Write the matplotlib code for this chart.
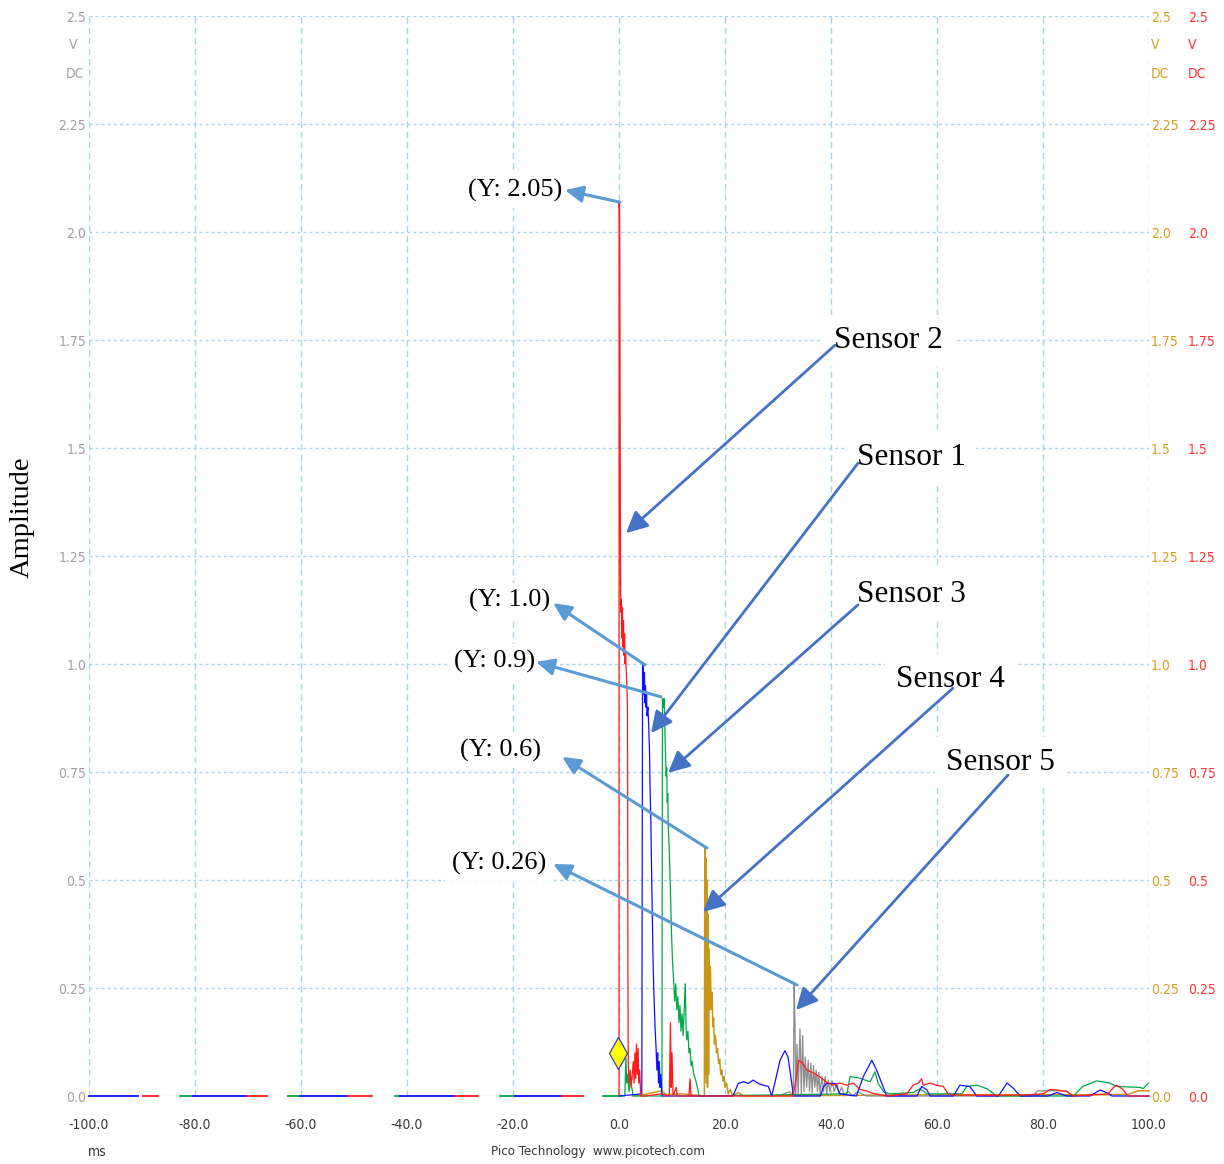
import matplotlib
matplotlib.use("Agg")
import matplotlib.pyplot as plt
from matplotlib import font_manager as fm

# ---------------- data ----------------
x_ticks = [-100, -80, -60, -40, -20, 0, 20, 40, 60, 80, 100]
x_tick_labels = ["-100.0", "-80.0", "-60.0", "-40.0", "-20.0", "0.0",
                 "20.0", "40.0", "60.0", "80.0", "100.0"]
y_ticks = [0.0, 0.25, 0.5, 0.75, 1.0, 1.25, 1.5, 1.75, 2.0, 2.25, 2.5]
y_tick_labels = ["0.0", "0.25", "0.5", "0.75", "1.0", "1.25", "1.5",
                 "1.75", "2.0", "2.25", "2.5"]

# pre-trigger baseline segments (ms start, ms end) at 0 V
green_base = [(-82.8, -80.4), (-62.5, -60.2), (-42.3, -41.3), (-22.5, -19.6), (-3.0, 0.0)]
blue_base = [(-100.0, -90.8), (-80.4, -70.2), (-60.2, -51.1), (-41.3, -30.9), (-19.6, -10.8)]
red_base = [(-89.8, -87.0), (-70.2, -66.4), (-51.1, -46.6), (-30.9, -26.6), (-10.8, -6.8)]

# Sensor 2 (red)
red_t = [0.0, 0.02, 0.1, 0.15, 0.2, 0.25, 0.3, 0.35, 0.45, 0.55, 0.65, 0.75, 0.85,
         0.95, 1.05, 1.15, 1.25, 1.35, 1.45, 1.6, 1.68, 1.75, 1.9, 2.1, 2.3, 2.5,
         2.7, 2.85, 3.0, 3.15, 3.3, 3.45, 3.6, 3.75, 3.9, 4.1, 5.0, 8.0, 9.5, 9.7,
         9.85, 10.0, 10.2, 10.8, 11.0, 13.2, 13.4, 13.6, 16.0, 32.9, 33.9, 34.7,
         35.4, 36.6, 37.9, 39.2, 40.4, 41.7, 43.0, 44.2, 45.5, 46.7, 47.9, 50.5,
         54.3, 55.5, 56.5, 57.1, 57.4, 58.7, 59.9, 61.2, 62.1, 63.0, 75.7, 80.1,
         81.3, 82.6, 84.5, 85.7, 92.3, 93.3, 93.9, 95.1, 96.0, 100.0]
red_v = [0.0, 2.07, 2.05, 1.95, 1.6, 1.35, 1.18, 1.12, 1.15, 1.06, 1.13, 1.04, 1.1,
         1.02, 1.07, 1.0, 1.03, 0.99, 0.96, 0.9, 0.3, 0.07, 0.03, 0.06, 0.02, 0.05,
         0.08, 0.03, 0.1, 0.04, 0.12, 0.05, 0.11, 0.03, 0.06, 0.0, 0.0, 0.005, 0.0, 0.17,
         0.02, 0.1, 0.0, 0.02, 0.0, 0.0, 0.04, 0.0, 0.0, 0.0, 0.083, 0.076,
         0.06, 0.054, 0.044, 0.032, 0.025, 0.03, 0.025, 0.03, 0.015, 0.012, 0.006, 0.0,
         0.005, 0.025, 0.03, 0.04, 0.025, 0.03, 0.025, 0.022, 0.005, 0.002, 0.002, 0.005,
         0.015, 0.014, 0.01, 0.0, 0.005, 0.02, 0.025, 0.015, 0.0, 0.0]

# Sensor 1 (blue)
blue_t = [0.0, 4.3, 4.45, 4.6, 4.7, 4.8, 4.9, 5.0, 5.1, 5.2, 5.3, 5.45, 5.6, 5.75,
          5.85, 6.0, 6.2, 6.4, 6.55, 6.8, 7.0, 7.15, 7.3, 7.45, 7.6, 7.75, 7.9, 8.1,
          21.5, 22.5, 23.5, 24.4, 25.3, 26.3, 27.2, 28.2, 28.8, 29.4, 30.4, 31.3,
          31.9, 32.6, 32.9, 38.0, 38.6, 39.2, 40.8, 41.7, 44.8, 46.1, 47.7, 48.6,
          49.6, 50.5, 56.2, 57.1, 58.1, 58.7, 63.1, 64.3, 66.2, 67.5, 71.6, 73.2,
          74.4, 75.7, 81.0, 82.6, 84.5, 88.9, 90.8, 92.3, 93.0, 100.0]
blue_v = [0.0, 0.005, 1.0, 0.99, 0.93, 0.98, 0.91, 0.95, 0.9, 0.93, 0.88, 0.9, 0.86, 0.8,
          0.72, 0.64, 0.48, 0.33, 0.25, 0.16, 0.11, 0.06, 0.1, 0.03, 0.08, 0.02, 0.05, 0.0,
          0.0, 0.029, 0.033, 0.029, 0.037, 0.029, 0.025, 0.022, 0.0, 0.03, 0.083, 0.105,
          0.09, 0.029, 0.0, 0.0, 0.022, 0.029, 0.029, 0.005, 0.0, 0.045, 0.083, 0.06,
          0.029, 0.0, 0.0, 0.022, 0.014, 0.0, 0.0, 0.025, 0.022, 0.0, 0.0, 0.03,
          0.018, 0.0, 0.0, 0.008, 0.0, 0.0, 0.014, 0.006, 0.0, 0.0]

# Sensor 3 (green)
green_t = [0.0, 1.1, 1.3, 1.45, 1.6, 1.9, 2.1, 2.4, 2.7, 8.1, 8.2, 8.35, 8.5, 8.65,
           8.8, 8.9, 9.0, 9.1, 9.2, 9.3, 9.45, 9.6, 9.75, 9.9, 10.1, 10.3, 10.5, 10.7,
           10.9, 11.1, 11.3, 11.5, 11.7, 11.9, 12.1, 12.3, 12.5, 12.65, 12.8, 13.0,
           13.2, 13.4, 13.6, 13.8, 14.1, 14.4, 14.8, 15.1, 43.0, 43.6, 45.5, 46.4,
           47.4, 48.3, 48.9, 49.9, 51.1, 55.5, 56.8, 58.1, 64.7, 65.6, 67.5, 69.4,
           71.3, 85.7, 87.5, 90.1, 92.6, 93.9, 98.3, 98.9, 99.9]
green_v = [0.0, 0.0, 0.088, 0.03, 0.05, 0.01, 0.045, 0.02, 0.0, 0.0, 0.92, 0.9, 0.92, 0.85,
           0.78, 0.74, 0.76, 0.68, 0.7, 0.62, 0.58, 0.52, 0.45, 0.38, 0.31, 0.27, 0.22, 0.26,
           0.2, 0.23, 0.17, 0.21, 0.15, 0.19, 0.14, 0.2, 0.26, 0.16, 0.13, 0.15,
           0.1, 0.11, 0.07, 0.08, 0.05, 0.04, 0.02, 0.0, 0.005, 0.045, 0.041, 0.037,
           0.033, 0.056, 0.029, 0.01, 0.005, 0.008, 0.017, 0.005, 0.005, 0.022, 0.025, 0.017,
           0.0, 0.0, 0.022, 0.035, 0.03, 0.022, 0.02, 0.017, 0.03]

# Sensor 4 (gold)
gold_t = [2.5, 5.0, 8.0, 9.0, 12.0, 16.1, 16.2, 16.3, 16.4, 16.5, 16.6, 16.7, 16.8,
          16.9, 17.0, 17.1, 17.25, 17.4, 17.55, 17.7, 17.85, 18.0, 18.2, 18.4, 18.6,
          18.8, 19.0, 19.2, 19.4, 19.6, 19.8, 20.0, 20.3, 20.6, 21.0, 21.4, 22.5,
          23.5, 63.0, 65.7, 93.0, 96.0, 98.0, 100.0]
gold_v = [0.0, 0.004, 0.012, 0.003, 0.005, 0.0, 0.575, 0.05, 0.55, 0.03, 0.5, 0.02, 0.42,
          0.05, 0.34, 0.2, 0.3, 0.2, 0.24, 0.16, 0.18, 0.12, 0.14, 0.1, 0.11,
          0.075, 0.085, 0.05, 0.06, 0.035, 0.045, 0.02, 0.03, 0.005, 0.015, 0.0, 0.008,
          0.0, 0.003, 0.003, 0.003, 0.004, 0.012, 0.012]

# Sensor 5 (grey)
grey_t = [30.0, 32.2, 32.6, 32.9, 33.05, 33.2, 33.35, 33.6, 33.8, 34.15, 34.4, 34.65,
          34.9, 35.15, 35.4, 35.7, 35.95, 36.2, 36.45, 36.7, 36.95, 37.2, 37.45, 37.7,
          37.95, 38.3, 38.6, 38.9, 39.2, 39.5, 39.8, 40.2, 40.6, 41.1, 41.5, 42.0,
          42.6, 43.2, 44.0, 45.0, 46.7, 78.0, 79.0, 84.5, 85.5]
grey_v = [0.0, 0.01, 0.0, 0.02, 0.26, 0.17, 0.0, 0.12, 0.0, 0.155, 0.005, 0.14,
          0.01, 0.09, 0.02, 0.083, 0.01, 0.076, 0.007, 0.07, 0.02, 0.06, 0.01, 0.055,
          0.005, 0.045, 0.01, 0.045, 0.005, 0.037, 0.01, 0.035, 0.01, 0.03, 0.005, 0.02,
          0.0, 0.012, 0.0, 0.01, 0.0, 0.0, 0.012, 0.012, 0.0]

# trigger marker
trigger_t = [-0.1]
trigger_v = [0.099]

# annotations: label, text position, arrow tail (trace), arrow head
value_labels = ["(Y: 2.05)", "(Y: 1.0)", "(Y: 0.9)", "(Y: 0.6)", "(Y: 0.26)"]
value_text_xy = [(-19.6, 2.097), (-20.6, 1.146), (-23.4, 1.005), (-22.45, 0.801), (-22.6, 0.539)]
value_tail_xy = [(0.19, 2.069), (4.9, 0.998), (7.92, 0.924), (16.6, 0.574), (33.6, 0.257)]
value_head_xy = [(-10.2, 2.097), (-12.45, 1.141), (-15.66, 1.005), (-10.75, 0.785), (-12.45, 0.537)]

sensor_labels = ["Sensor 2", "Sensor 1", "Sensor 3", "Sensor 4", "Sensor 5"]
sensor_text_xy = [(50.9, 1.748), (55.1, 1.479), (55.1, 1.162), (62.6, 0.965), (71.9, 0.773)]
sensor_tail_xy = [(40.75, 1.738), (45.1, 1.465), (45.1, 1.137), (63.0, 0.944), (73.4, 0.743)]
sensor_head_xy = [(1.32, 1.303), (6.04, 0.840), (9.25, 0.748), (15.85, 0.426), (33.4, 0.199)]

# ---------------- styling ----------------
RED = "#ff1a1a"
BLUE = "#1010ff"
GREEN = "#00a84a"
GOLD = "#c8971a"
GREY = "#8c8c8c"
GRID = "#a9d6e6"
SERIF = ["Liberation Serif", "DejaVu Serif"]

# condensed sans for the oscilloscope labels
_cond = None
for f in fm.fontManager.ttflist:
    if f.name == "DejaVu Sans" and "ondensed" in f.fname and "Bold" not in f.fname \
            and "Oblique" not in f.fname:
        _cond = f.fname
        break
if _cond is None:
    for f in fm.fontManager.ttflist:
        if "Narrow" in f.name and "Bold" not in f.fname and "Italic" not in f.fname:
            _cond = f.fname
            break


def nfont(size):
    if _cond:
        return fm.FontProperties(fname=_cond, size=size)
    return fm.FontProperties(family="DejaVu Sans", size=size)


TS = 10

W, H = 1224, 1164
fig = plt.figure(figsize=(W / 100, H / 100), dpi=100)
L, R, T, B = 89, 1149, 16, 1096
ax = fig.add_axes([L / W, 1 - B / H, (R - L) / W, (B - T) / H])
ax.set_xlim(-100, 100)
ax.set_ylim(0, 2.5)
for s in ax.spines.values():
    s.set_visible(False)

# grid
for yv in y_ticks:
    ax.axhline(yv, color=GRID, lw=1.0, ls=(0, (2.2, 2.2)), zorder=0)
for xv in x_ticks:
    ax.axvline(xv, color=GRID, lw=1.0, ls=(0, (4.5, 3.0)), zorder=0)

# ticks
ax.set_xticks(x_ticks)
ax.set_xticklabels(x_tick_labels, fontproperties=nfont(TS), color="#383838")
ax.set_yticks(y_ticks)
ax.set_yticklabels(y_tick_labels, fontproperties=nfont(TS), color="#a0a0a0")
ax.tick_params(axis="both", length=0)
ax.tick_params(axis="x", pad=16)
ax.tick_params(axis="y", pad=2)

ax_gold = ax.twinx()
ax_red = ax.twinx()
for a, col, pad in [(ax_gold, "#d4a020", 1.5), (ax_red, "#ff3333", 28)]:
    a.set_ylim(0, 2.5)
    a.set_yticks(y_ticks)
    a.set_yticklabels(y_tick_labels, fontproperties=nfont(TS), color=col)
    a.tick_params(axis="y", length=0, pad=pad)
    for s in a.spines.values():
        s.set_visible(False)

# unit labels
for (xp, ha, col) in [(73, "center", "#a0a0a0"), (1151, "left", "#d4a020"), (1188, "left", "#ff3333")]:
    fig.text(xp / W, 1 - 45 / H, "V", ha=ha, va="center", fontproperties=nfont(TS), color=col)
for (xp, ha, col) in [(84, "right", "#a0a0a0"), (1151, "left", "#d4a020"), (1188, "left", "#ff3333")]:
    fig.text(xp / W, 1 - 74 / H, "DC", ha=ha, va="center", fontproperties=nfont(TS), color=col)

fig.text(97 / W, 1 - 1152 / H, "ms", ha="center", va="center", fontproperties=nfont(TS), color="#383838")
fig.text(598 / W, 1 - 1151 / H, "Pico Technology  www.picotech.com", ha="center", va="center",
         fontproperties=nfont(9.5), color="#383838")

fig.text(22 / W, 1 - 517 / H, "Amplitude", rotation=90, ha="center", va="center",
         family=SERIF, fontsize=20.5, color="black")

# baseline segments
lw = 0.9
for segs, col in [(green_base, GREEN), (blue_base, BLUE), (red_base, RED)]:
    for a0, a1 in segs:
        ax.plot([a0, a1], [0, 0], color=col, lw=1.3, clip_on=False, zorder=2)

# traces
ax.plot(gold_t, gold_v, color=GOLD, lw=1.1, clip_on=False, zorder=3)
ax.plot(grey_t, grey_v, color=GREY, lw=lw, clip_on=False, zorder=3)
ax.plot(green_t, green_v, color=GREEN, lw=lw, clip_on=False, zorder=3)
ax.plot(blue_t, blue_v, color=BLUE, lw=lw, clip_on=False, zorder=3)
ax.plot(red_t, red_v, color=RED, lw=lw, clip_on=False, zorder=3)

ax.plot(trigger_t, trigger_v, marker="d", ls="none", markersize=16,
        mfc="#ffff00", mec="#3a3ac0", mew=0.9, zorder=5, clip_on=False)

# value annotations
for lab, txy, tail, head in zip(value_labels, value_text_xy, value_tail_xy, value_head_xy):
    ax.annotate("", xy=head, xytext=tail,
                arrowprops=dict(arrowstyle="-|>,head_length=0.6,head_width=0.28",
                                color="#5b9bd5", lw=2.2, mutation_scale=18,
                                shrinkA=0, shrinkB=0), zorder=6)
    ax.text(txy[0], txy[1], lab, ha="center", va="center", family=SERIF, fontsize=19,
            color="black", zorder=4,
            bbox=dict(facecolor="white", edgecolor="none", boxstyle="square,pad=0.25"))

# sensor annotations
for lab, txy, tail, head in zip(sensor_labels, sensor_text_xy, sensor_tail_xy, sensor_head_xy):
    ax.text(txy[0], txy[1], lab, ha="center", va="center", family=SERIF, fontsize=22.5,
            color="black", zorder=4,
            bbox=dict(facecolor="white", edgecolor="none", boxstyle="square,pad=0.35"))
    ax.annotate("", xy=head, xytext=tail,
                arrowprops=dict(arrowstyle="-|>,head_length=0.65,head_width=0.32",
                                color="#4472c4", lw=2.0, mutation_scale=20,
                                shrinkA=0, shrinkB=0), zorder=6)

fig.savefig("out.png", dpi=100)
